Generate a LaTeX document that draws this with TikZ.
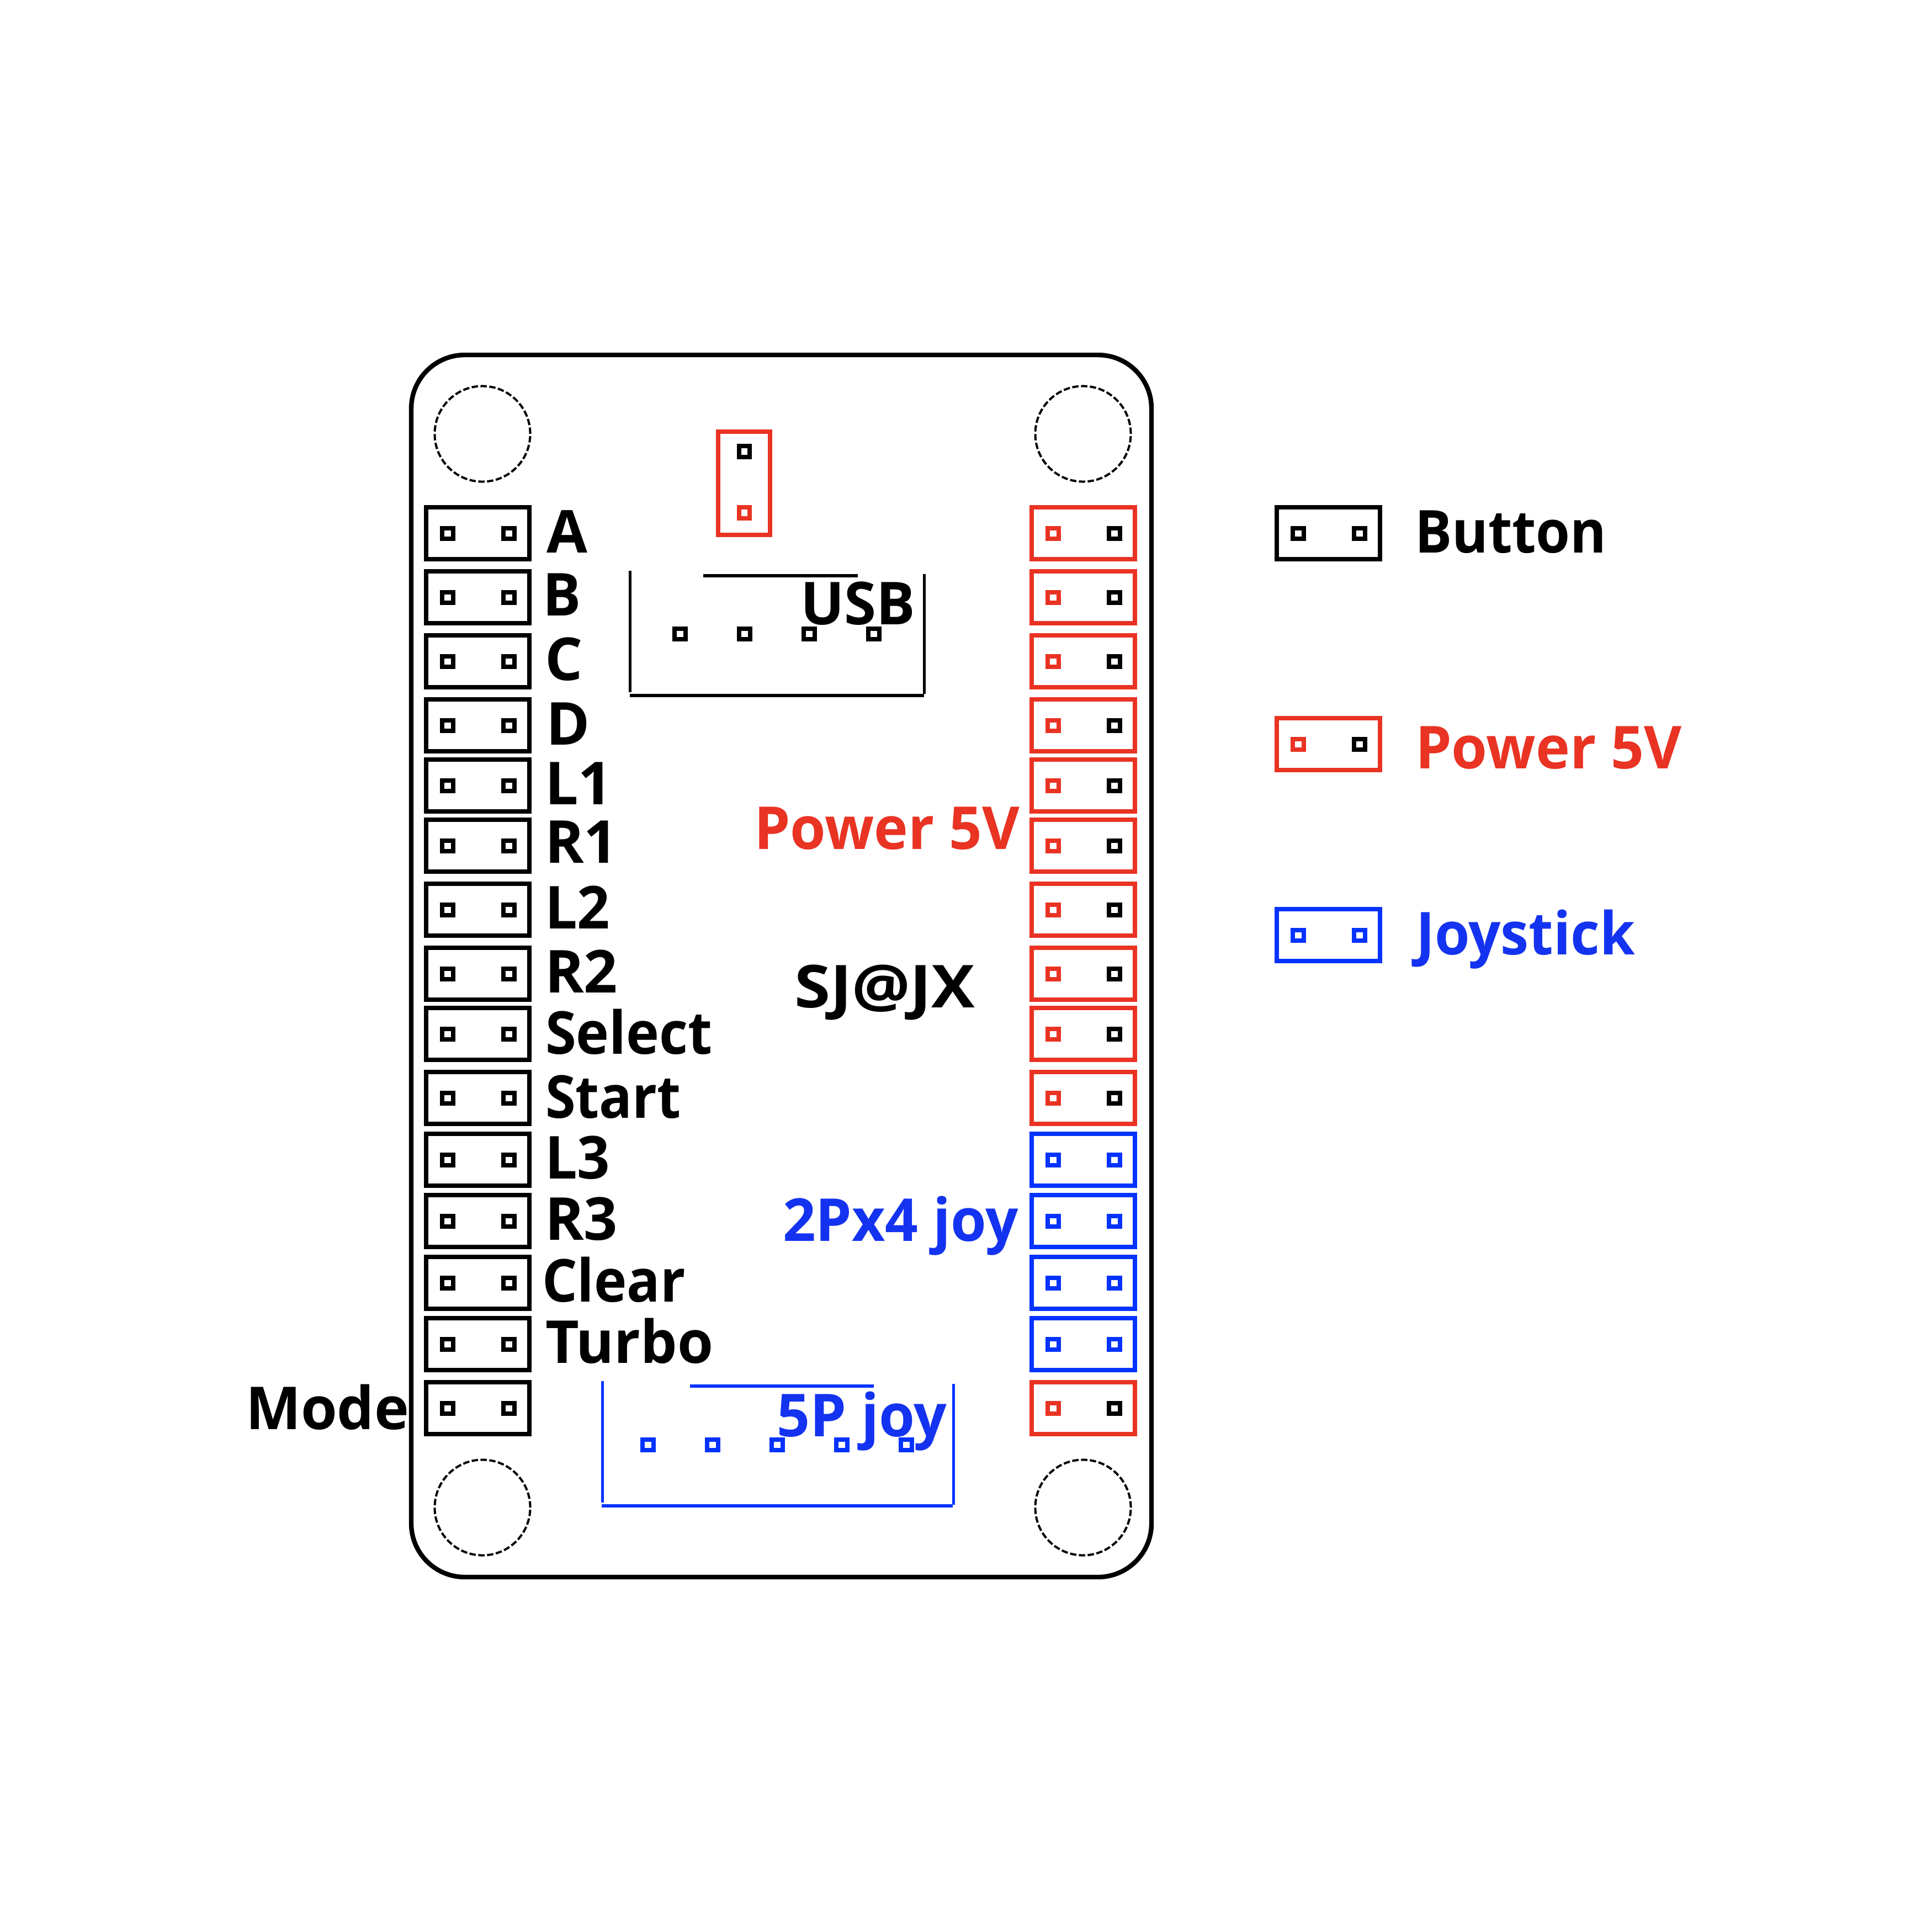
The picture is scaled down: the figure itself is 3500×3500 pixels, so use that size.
\documentclass[tikz,border=0pt]{standalone}
\usepackage{fontspec}
\usepackage{graphicx}
\setmainfont{Open Sans}
\definecolor{pcbred}{HTML}{E93323}
\definecolor{pcbblue}{HTML}{0433FF}
\definecolor{txtblue}{HTML}{1433F0}
\newcommand{\narrowed}[2]{\scalebox{#1}[1]{#2}}
\tikzset{
  x=0.01cm,y=-0.01cm,
  hdr/.style={draw=#1,line width=0.084cm,minimum width=1.87cm,minimum height=0.94cm,inner sep=0pt,outer sep=0pt,rectangle},
  hdrv/.style={draw=#1,line width=0.084cm,minimum width=0.94cm,minimum height=1.87cm,inner sep=0pt,outer sep=0pt,rectangle},
  pin/.style={draw=#1,line width=0.08cm,minimum width=0.20cm,minimum height=0.19cm,inner sep=0pt,outer sep=0pt,rectangle},
  lbl/.style={anchor=base west,inner sep=0pt,outer sep=0pt,text=#1,font=\fontsize{30.5}{32}\selectfont\bfseries},
  lbl/.default=black,
  hole/.style={circle,draw=black,line width=0.04cm,dash pattern=on 0.115cm off 0.045cm,minimum size=1.73cm,inner sep=0pt,outer sep=0pt},
  edge/.style={draw=#1,line width=0.05cm},
  edgeh/.style={draw=#1,line width=0.06cm},
}
\begin{document}
\begin{tikzpicture}
\useasboundingbox (0,0) rectangle (3500,3500);
% board
\draw[line width=0.084cm,black,rounded corners=0.97cm] (745,643) rectangle (2086,2857);
\node[hole] (h1) at (874,786) {};
\node[hole] (h2) at (1962,786) {};
\node[hole] (h3) at (874,2731) {};
\node[hole] (h4) at (1962,2731) {};
% left column
\foreach \i/\yy in {1/966,2/1082,3/1198,4/1314,5/1423,6/1532,7/1648,8/1764,9/1873,10/1989,11/2101,12/2212,13/2324,14/2435,15/2551}{
  \node[hdr=black] (lb\i) at (865.5,\yy) {};
  \node[pin=black] (lp\i a) at (811,\yy) {};
  \node[pin=black] (lp\i b) at (922,\yy) {};
}
% right column power
\foreach \i/\yy in {1/966,2/1082,3/1198,4/1314,5/1423,6/1532,7/1648,8/1764,9/1873,10/1989,15/2551}{
  \node[hdr=pcbred] (rb\i) at (1962.5,\yy) {};
  \node[pin=pcbred] (rp\i a) at (1908,\yy) {};
  \node[pin=black] (rp\i b) at (2019,\yy) {};
}
% right column joystick
\foreach \i/\yy in {11/2101,12/2212,13/2324,14/2435}{
  \node[hdr=pcbblue] (rb\i) at (1962.5,\yy) {};
  \node[pin=pcbblue] (rp\i a) at (1908,\yy) {};
  \node[pin=pcbblue] (rp\i b) at (2019,\yy) {};
}
% top jumper
\node[hdrv=pcbred] (top) at (1348,875.5) {};
\node[pin=black,minimum width=0.19cm,minimum height=0.20cm] (topa) at (1348,818) {};
\node[pin=pcbred,minimum width=0.19cm,minimum height=0.20cm] (topb) at (1348,929) {};
% USB
\coordinate (u1) at (1141,1034);\coordinate (u2) at (1141,1254);
\coordinate (u3) at (1674,1040);\coordinate (u4) at (1674,1257);
\coordinate (u5) at (1141,1260);\coordinate (u6) at (1674,1260);
\coordinate (u7) at (1274,1043);\coordinate (u8) at (1554,1043);
\draw[edge=black] (u1)--(u2); \draw[edge=black] (u3)--(u4);
\draw[edgeh=black] (u5)--(u6); \draw[edgeh=black] (u7)--(u8);
\foreach \i/\xx in {1/1232,2/1349,3/1466,4/1583}
  \node[pin=black] (up\i) at (\xx,1148.5) {};
% 5P joy
\coordinate (j1) at (1091,2502);\coordinate (j2) at (1091,2722);
\coordinate (j3) at (1727.5,2507);\coordinate (j4) at (1727.5,2726);
\coordinate (j5) at (1090,2728);\coordinate (j6) at (1726,2728);
\coordinate (j7) at (1250,2511);\coordinate (j8) at (1583,2511);
\draw[edge=pcbblue] (j1)--(j2); \draw[edge=pcbblue] (j3)--(j4);
\draw[edgeh=pcbblue] (j5)--(j6); \draw[edgeh=pcbblue] (j7)--(j8);
\foreach \i/\xx in {1/1174,2/1291,3/1408,4/1525,5/1642}
  \node[pin=pcbblue] (jp\i) at (\xx,2617) {};
% legend
\node[hdr=black] (lgb) at (2406.5,966) {};
\node[pin=black] (lgb1) at (2352,966) {};
\node[pin=black] (lgb2) at (2463,966) {};
\node[hdr=pcbred] (lgp) at (2406.5,1348) {};
\node[pin=pcbred] (lgp1) at (2352,1348) {};
\node[pin=black] (lgp2) at (2463,1348) {};
\node[hdr=pcbblue] (lgj) at (2406.5,1694) {};
\node[pin=pcbblue] (lgj1) at (2352,1694) {};
\node[pin=pcbblue] (lgj2) at (2463,1694) {};
% labels
\node[lbl] (ta) at (990,1001) {A};
\node[lbl] (tb) at (983,1115) {\narrowed{0.96}{B}};
\node[lbl] (tc) at (987,1232) {C};
\node[lbl] (td) at (989,1349) {D};
\node[lbl] (tl1) at (987,1457) {L1};
\node[lbl] (tr1) at (987,1563) {R1};
\node[lbl] (tl2) at (987,1682) {\narrowed{0.97}{L2}};
\node[lbl] (tr2) at (987,1798) {R2};
\node[lbl] (tsel) at (988,1909) {\narrowed{0.945}{Select}};
\node[lbl] (tsta) at (988,2025) {\narrowed{0.925}{Start}};
\node[lbl] (tl3) at (987,2135) {\narrowed{0.97}{L3}};
\node[lbl] (tr3) at (987,2246) {R3};
\node[lbl] (tcl) at (982,2358) {\narrowed{0.935}{Clear}};
\node[lbl] (ttu) at (988,2469) {\narrowed{0.98}{Turbo}};
\node[lbl] (tmo) at (445,2589) {\narrowed{0.99}{Mode}};
\node[lbl] (tusb) at (1450,1131) {\narrowed{0.98}{USB}};
\node[lbl=pcbred] (tpw) at (1366,1538) {\narrowed{0.973}{Power 5V}};
\node[lbl] (tsj) at (1439,1825) {\narrowed{1.1}{SJ@JX}};
\node[lbl=txtblue] (t2p) at (1418,2248) {\narrowed{0.975}{2Px4 joy}};
\node[lbl=txtblue] (t5p) at (1407,2602) {\narrowed{0.98}{5P joy}};
\node[lbl] (lg1) at (2563,1001) {\narrowed{0.933}{Button}};
\node[lbl=pcbred] (lg2) at (2564,1392) {\narrowed{0.977}{Power 5V}};
\node[lbl=txtblue] (lg3) at (2565,1729) {\narrowed{0.957}{Joystick}};
\end{tikzpicture}
\end{document}
